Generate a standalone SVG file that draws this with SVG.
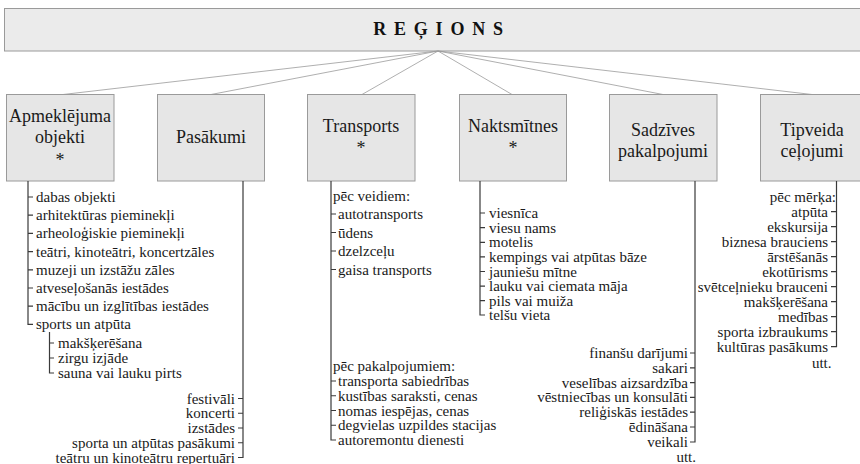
<svg xmlns="http://www.w3.org/2000/svg" width="860" height="464" viewBox="0 0 860 464">
  <style>
    .bg { fill: #ffffff; }
    .head { fill: #ebebeb; stroke: #9a9a9a; stroke-width: 1; }
    .box { fill: #e6e6e6; stroke: #9a9a9a; stroke-width: 1; }
    .title { font-family: "Liberation Serif", "Times New Roman", serif; font-size: 18px; font-weight: bold; letter-spacing: 7.8px; fill: #111; }
    .lbl { font-family: "Liberation Serif", "Times New Roman", serif; font-size: 18px; fill: #1a1a1a; text-anchor: middle; }
    .it { font-family: "Liberation Serif", "Times New Roman", serif; font-size: 15px; fill: #1a1a1a; }
    .r { text-anchor: end; }
    .conn { fill: none; stroke: #9a9a9a; stroke-width: 0.8; }
    .br { fill: none; stroke: #3a3a3a; stroke-width: 1.2; }
  </style>

  <rect class="bg" x="0" y="0" width="860" height="464"/>

  <!-- top heading -->
  <g id="regions">
    <rect class="head" x="4.5" y="8.5" width="870" height="42.5"/>
    <text class="title" x="442" y="35" text-anchor="middle">REĢIONS</text>
  </g>

  <!-- links from the heading to each category -->
  <g id="connectors">
    <path class="conn" d="M438 51 L63 94.5"/>
    <path class="conn" d="M438 51 L211 94.5"/>
    <path class="conn" d="M438 51 L362 94.5"/>
    <path class="conn" d="M438 51 L512 94.5"/>
    <path class="conn" d="M438 51 L663 94.5"/>
    <path class="conn" d="M438 51 L812 94.5"/>
  </g>

  <!-- Apmeklējuma objekti -->
  <g id="apmeklejuma-objekti">
    <rect class="box" x="6.5" y="94.5" width="107.5" height="86.5"/>
    <text class="lbl" x="60" y="122">Apmeklējuma</text>
    <text class="lbl" x="60" y="143">objekti</text>
    <text class="lbl" x="60" y="165.5">*</text>
    <path class="br" d="M28 181 V324.4 H33 M28 197 h5 M28 215.2 h5 M28 233.4 h5 M28 251.6 h5 M28 269.8 h5 M28 288 h5 M28 306.2 h5"/>
    <text class="it" x="36" y="202">dabas objekti</text>
    <text class="it" x="36" y="220.2">arhitektūras pieminekļi</text>
    <text class="it" x="36" y="238.4">arheoloģiskie pieminekļi</text>
    <text class="it" x="36" y="256.6">teātri, kinoteātri, koncertzāles</text>
    <text class="it" x="36" y="274.8">muzeji un izstāžu zāles</text>
    <text class="it" x="36" y="293">atveseļošanās iestādes</text>
    <text class="it" x="36" y="311.2">mācību un izglītības iestādes</text>
    <text class="it" x="36" y="329.4">sports un atpūta</text>
    <path class="br" d="M49.5 332 V373 H54 M49.5 343 h4.5 M49.5 358 h4.5"/>
    <text class="it" x="58" y="348">makšķerēšana</text>
    <text class="it" x="58" y="363">zirgu izjāde</text>
    <text class="it" x="58" y="378">sauna vai lauku pirts</text>
  </g>

  <!-- Pasākumi -->
  <g id="pasakumi">
    <rect class="box" x="157.5" y="94.5" width="107" height="86.5"/>
    <text class="lbl" x="211" y="143">Pasākumi</text>
    <path class="br" d="M243 181 V457.5 H238 M238 398.5 H243 M238 413.25 H243 M238 428 H243 M238 442.75 H243"/>
    <text class="it r" x="235" y="403.5">festivāli</text>
    <text class="it r" x="235" y="418.3">koncerti</text>
    <text class="it r" x="235" y="433">izstādes</text>
    <text class="it r" x="235" y="447.8">sporta un atpūtas pasākumi</text>
    <text class="it r" x="235" y="462.5">teātru un kinoteātru repertuāri</text>
  </g>

  <!-- Transports -->
  <g id="transports">
    <rect class="box" x="307.5" y="94.5" width="107.5" height="86.5"/>
    <text class="lbl" x="361" y="132">Transports</text>
    <text class="lbl" x="361" y="153.5">*</text>
    <path class="br" d="M331 181 V440 H336 M331 214 h5 M331 232.5 h5 M331 251 h5 M331 269.5 h5 M331 381 h5 M331 395.75 h5 M331 410.5 h5 M331 425.25 h5"/>
    <text class="it" x="333" y="201">pēc veidiem:</text>
    <text class="it" x="338" y="219">autotransports</text>
    <text class="it" x="338" y="237.5">ūdens</text>
    <text class="it" x="338" y="256">dzelzceļu</text>
    <text class="it" x="338" y="274.5">gaisa transports</text>
    <text class="it" x="333" y="371">pēc pakalpojumiem:</text>
    <text class="it" x="338" y="386">transporta sabiedrības</text>
    <text class="it" x="338" y="400.75">kustības saraksti, cenas</text>
    <text class="it" x="338" y="415.5">nomas iespējas, cenas</text>
    <text class="it" x="338" y="430.25">degvielas uzpildes stacijas</text>
    <text class="it" x="338" y="445">autoremontu dienesti</text>
  </g>

  <!-- Naktsmītnes -->
  <g id="naktsmitnes">
    <rect class="box" x="459.5" y="94.5" width="107" height="86.5"/>
    <text class="lbl" x="513" y="132">Naktsmītnes</text>
    <text class="lbl" x="513" y="153.5">*</text>
    <path class="br" d="M480 181 V315 H485 M480 213 h5 M480 227.6 h5 M480 242.3 h5 M480 256.9 h5 M480 271.5 h5 M480 286.1 h5 M480 300.7 h5"/>
    <text class="it" x="489" y="218">viesnīca</text>
    <text class="it" x="489" y="232.6">viesu nams</text>
    <text class="it" x="489" y="247.3">motelis</text>
    <text class="it" x="489" y="261.9">kempings vai atpūtas bāze</text>
    <text class="it" x="489" y="276.5">jauniešu mītne</text>
    <text class="it" x="489" y="291.1">lauku vai ciemata māja</text>
    <text class="it" x="489" y="305.7">pils vai muiža</text>
    <text class="it" x="489" y="320">telšu vieta</text>
  </g>

  <!-- Sadzīves pakalpojumi -->
  <g id="sadzives-pakalpojumi">
    <rect class="box" x="609.5" y="94.5" width="107.5" height="86.5"/>
    <text class="lbl" x="663" y="136">Sadzīves</text>
    <text class="lbl" x="663" y="157">pakalpojumi</text>
    <path class="br" d="M695 181 V442 H690 M690 353 H695 M690 367.8 H695 M690 382.6 H695 M690 397.4 H695 M690 412.2 H695 M690 427 H695"/>
    <text class="it r" x="688" y="358">finanšu darījumi</text>
    <text class="it r" x="688" y="372.8">sakari</text>
    <text class="it r" x="688" y="387.6">veselības aizsardzība</text>
    <text class="it r" x="688" y="402.4">vēstniecības un konsulāti</text>
    <text class="it r" x="688" y="417.2">reliģiskās iestādes</text>
    <text class="it r" x="688" y="432">ēdināšana</text>
    <text class="it r" x="688" y="446.8">veikali</text>
    <text class="it r" x="696" y="461.5">utt.</text>
  </g>

  <!-- Tipveida ceļojumi -->
  <g id="tipveida-celojumi">
    <rect class="box" x="760.5" y="94.5" width="110" height="86.5"/>
    <text class="lbl" x="812" y="136">Tipveida</text>
    <text class="lbl" x="812" y="157">ceļojumi</text>
    <path class="br" d="M836.5 181 V346.7 H831 M831 211.7 H836.5 M831 226.7 H836.5 M831 241.7 H836.5 M831 256.7 H836.5 M831 271.7 H836.5 M831 286.7 H836.5 M831 301.7 H836.5 M831 316.7 H836.5 M831 331.7 H836.5"/>
    <text class="it r" x="836" y="201.7">pēc mērķa:</text>
    <text class="it r" x="828" y="216.7">atpūta</text>
    <text class="it r" x="828" y="231.7">ekskursija</text>
    <text class="it r" x="828" y="246.7">biznesa brauciens</text>
    <text class="it r" x="828" y="261.7">ārstēšanās</text>
    <text class="it r" x="828" y="276.7">ekotūrisms</text>
    <text class="it r" x="828" y="291.7">svētceļnieku brauceni</text>
    <text class="it r" x="828" y="306.7">makšķerēšana</text>
    <text class="it r" x="828" y="321.7">medības</text>
    <text class="it r" x="828" y="336.7">sporta izbraukums</text>
    <text class="it r" x="828" y="351.7">kultūras pasākums</text>
    <text class="it r" x="831.5" y="368">utt.</text>
  </g>
</svg>
